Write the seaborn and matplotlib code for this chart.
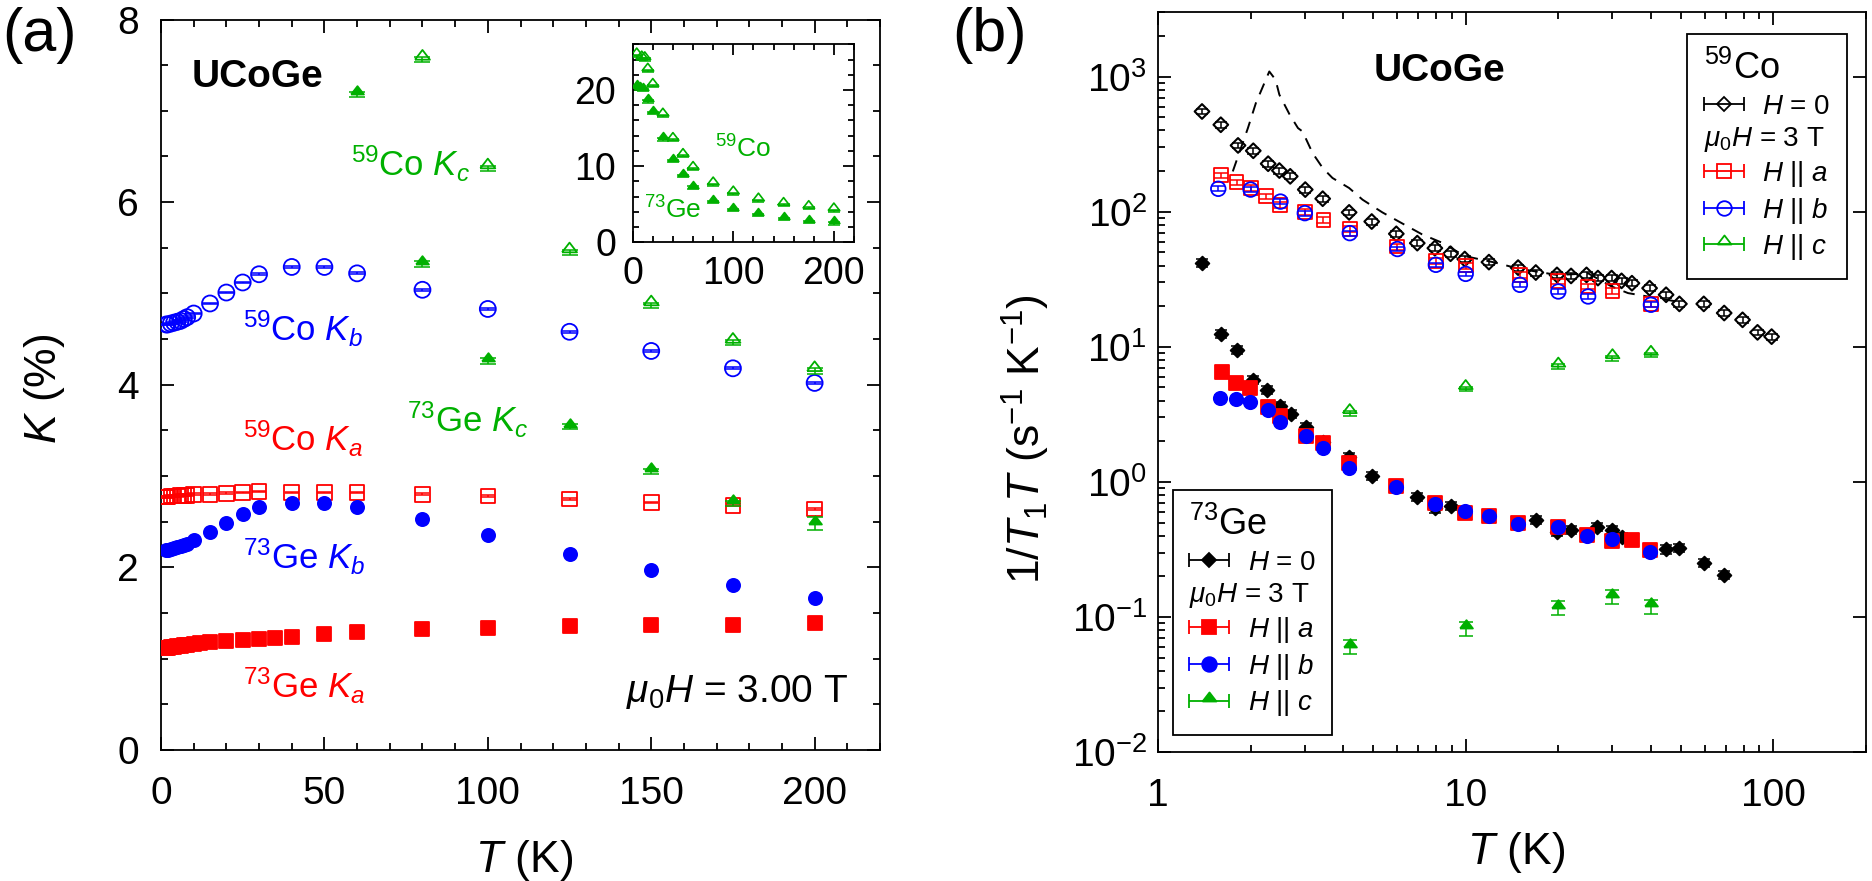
import numpy as np
import matplotlib
matplotlib.use("Agg")
import matplotlib.pyplot as plt
import seaborn as sns
from matplotlib.lines import Line2D
from matplotlib.collections import LineCollection
from matplotlib.container import ErrorbarContainer
from matplotlib.legend_handler import HandlerErrorbar
from matplotlib.ticker import MultipleLocator, LogLocator, NullFormatter, FuncFormatter

# ---------------- panel (a): Knight shift K (%) vs T (K) ----------------
co_kb_T = [1.6, 2, 3, 4, 5, 6, 7, 8, 10, 15, 20, 25, 30, 40, 50, 60, 80, 100, 125, 150, 175, 200]
co_kb_K = [4.66, 4.66, 4.67, 4.68, 4.69, 4.70, 4.72, 4.74, 4.78, 4.89, 5.01, 5.12, 5.21, 5.29, 5.29,
           5.22, 5.04, 4.83, 4.58, 4.37, 4.18, 4.02]
co_ka_T = [1.6, 2, 3, 4, 5, 6, 7, 8, 10, 15, 20, 25, 30, 40, 50, 60, 80, 100, 125, 150, 175, 200]
co_ka_K = [2.77, 2.77, 2.78, 2.78, 2.78, 2.79, 2.79, 2.79, 2.80, 2.80, 2.81, 2.82, 2.83, 2.82, 2.82,
           2.82, 2.80, 2.78, 2.75, 2.71, 2.68, 2.64]
ge_kb_T = [1.6, 2, 3, 4, 5, 6, 7, 8, 10, 15, 20, 25, 30, 40, 50, 60, 80, 100, 125, 150, 175, 200]
ge_kb_K = [2.19, 2.19, 2.20, 2.21, 2.22, 2.23, 2.24, 2.26, 2.30, 2.39, 2.49, 2.58, 2.66, 2.71, 2.71,
           2.66, 2.53, 2.35, 2.15, 1.97, 1.81, 1.66]
ge_ka_T = [1.6, 2, 3, 4, 5, 6, 7, 8, 10, 12, 15, 20, 25, 30, 35, 40, 50, 60, 80, 100, 125, 150, 175, 200]
ge_ka_K = [1.12, 1.12, 1.13, 1.13, 1.14, 1.14, 1.15, 1.15, 1.16, 1.17, 1.18, 1.19, 1.20, 1.22, 1.23,
           1.24, 1.27, 1.29, 1.32, 1.34, 1.36, 1.37, 1.37, 1.39]
co_kc_T = [4, 9, 12, 15, 20, 30, 40, 50, 60, 80, 100, 125, 150, 175, 200]
co_kc_K = [24.5, 24.1, 24.0, 22.5, 20.5, 16.6, 13.4, 11.3, 9.6, 7.56, 6.37, 5.45, 4.87, 4.46, 4.15]
ge_kc_T = [4, 7, 10, 15, 20, 30, 40, 50, 60, 80, 100, 125, 150, 175, 200]
ge_kc_K = [20.4, 20.1, 20.0, 18.5, 17.0, 13.5, 10.7, 8.7, 7.18, 5.32, 4.26, 3.54, 3.05, 2.70, 2.48]
ge_kc_err = [0.2, 0.2, 0.2, 0.2, 0.2, 0.2, 0.2, 0.2, 0.03, 0.03, 0.03, 0.03, 0.03, 0.03, 0.07]
k_err = 0.01
kc_err = 0.03

# ---------------- panel (b): 1/T1T vs T ----------------
co_h0_T = [1.39, 1.6, 1.82, 2.04, 2.28, 2.48, 2.69, 3.01, 3.43, 4.18, 4.95, 5.95, 6.96, 7.94, 8.93, 9.93,
           11.9, 14.8, 16.9, 19.8, 22.0, 24.7, 26.9, 29.8, 32.1, 34.7, 39.6, 44.8, 49.5, 59.4, 69.2,
           79.4, 88.8, 98.7]
co_h0_R = [553, 441, 310, 283, 227, 202, 183, 146, 125, 99, 84.7, 68.7, 58.6, 53.8, 48.9, 44.7,
           42.4, 38.6, 35.5, 34.1, 33.5, 34.1, 32.3, 32.3, 30.8, 29.6, 27.2, 24.3, 20.8, 20.8, 17.8,
           15.85, 12.8, 11.9]
co_a_T = [1.6, 1.8, 2.0, 2.25, 2.5, 3.0, 3.45, 4.2, 6.0, 8.0, 10, 15, 20, 25, 30, 40]
co_a_R = [186, 165, 150, 130, 113, 99.5, 87.3, 74.5, 55.3, 43.4, 40, 34.1, 30.5, 28, 26.1, 20.8]
co_b_T = [1.57, 2.0, 2.5, 3.0, 4.2, 6.0, 8.0, 10, 15, 20, 25, 40]
co_b_R = [148, 146, 119, 97.7, 69.5, 53, 40.5, 34.7, 28.8, 25.7, 23.6, 20.5]
co_c_T = [4.2, 10, 20, 30, 40]
co_c_R = [3.23, 4.87, 7.14, 8.24, 8.73]
ge_h0_T = [1.39, 1.6, 1.8, 2.04, 2.26, 2.5, 2.71, 3.02, 3.43, 4.18, 4.95, 6.96, 7.97, 8.93, 16.9,
           19.75, 22, 26.8, 29.8, 32.1, 44.8, 49.5, 59.4, 69.2]
ge_h0_R = [41.7, 12.4, 9.5, 5.7, 4.8, 3.66, 3.19, 2.54, 1.99, 1.52, 1.107, 0.778, 0.638, 0.664, 0.524,
           0.428, 0.441, 0.466, 0.441, 0.394, 0.317, 0.323, 0.25, 0.205]
ge_a_T = [1.62, 1.79, 1.99, 2.28, 2.5, 3.02, 3.45, 4.18, 5.95, 7.94, 9.93, 11.9, 14.8, 19.9, 24.7,
          29.8, 34.7, 39.6]
ge_a_R = [6.46, 5.38, 4.94, 3.57, 3.08, 2.17, 1.94, 1.38, 0.933, 0.703, 0.586, 0.56, 0.50, 0.466,
          0.405, 0.362, 0.372, 0.313]
ge_b_T = [1.59, 1.79, 1.99, 2.28, 2.5, 3.02, 3.45, 4.18, 5.95, 7.97, 9.93, 11.9, 14.8, 19.9, 24.7,
          29.8, 39.6]
ge_b_R = [4.21, 4.09, 3.93, 3.41, 2.80, 2.2, 1.78, 1.26, 0.92, 0.687, 0.612, 0.555, 0.49, 0.46,
          0.40, 0.377, 0.305]
ge_c_T = [4.2, 10, 20, 30, 40]
ge_c_R = [0.060, 0.0824, 0.117, 0.141, 0.120]
dash_T = [1.75, 1.96, 2.08, 2.30, 2.41, 2.48, 2.68, 2.85, 2.95, 3.18, 3.43, 3.69, 4.18, 4.62, 5.36,
          6.22, 7.22, 8.38, 9.93, 12.5, 14.8, 19.9, 25, 29.8, 33.7, 50]
dash_R = [199, 417, 638, 1094, 950, 736, 523, 417, 393, 272, 211, 178, 150, 123, 99, 82, 68, 59,
          47, 42, 38, 34, 35, 28, 25, 21.4]
relerr = {"co_h0": 0.05, "co_a": 0.05, "co_b": 0.04, "co_c": 0.04,
          "ge_h0": 0.07, "ge_a": 0.05, "ge_b": 0.04, "ge_c": 0.12}

RED, BLUE, GREEN, BLACK = "#ff0000", "#0000ff", "#00b000", "#000000"
TRI = [(-1, 0), (1, 0), (0, 1.3), (-1, 0)]

sns.set_theme(style="ticks")
plt.rcParams.update({
    "font.family": ["Liberation Sans", "DejaVu Sans"],
    "mathtext.fontset": "custom",
    "mathtext.rm": "Liberation Sans",
    "mathtext.it": "Liberation Sans:italic",
    "mathtext.bf": "Liberation Sans:bold",
    "mathtext.sf": "Liberation Sans",
    "axes.linewidth": 1.3,
    "axes.edgecolor": "black",
    "xtick.direction": "in", "ytick.direction": "in",
    "xtick.top": True, "ytick.right": True,
    "xtick.color": "black", "ytick.color": "black",
    "text.color": "black", "axes.labelcolor": "black",
})

W, H = 1872, 881
fig = plt.figure(figsize=(W / 100, H / 100), dpi=100)


def box(l, t, r, b):
    return [l / W, 1 - b / H, (r - l) / W, (b - t) / H]


axA = fig.add_axes(box(161, 19.5, 880, 750))
axB = fig.add_axes(box(1158, 12.3, 1866, 752))
axI = fig.add_axes(box(632.7, 44.3, 854, 242.3))


def series(ax, T, V, marker, color, ms, filled, err, cap, lw=1.3, z=3):
    T = np.asarray(T, float)
    V = np.asarray(V, float)
    ax.errorbar(T, V, yerr=err, fmt="none", ecolor=color, elinewidth=1.1,
                capsize=cap, capthick=1.1, zorder=z)
    sns.scatterplot(x=T, y=V, ax=ax, marker=marker, s=ms ** 2, color=color,
                    facecolor=color if filled else "none", edgecolor=color,
                    linewidth=lw, zorder=z + 0.5, legend=False)


def style_ticks(ax, labelsize, major_len=9.4, minor_len=5.0):
    ax.tick_params(which="both", direction="in", top=True, right=True, width=1.3,
                   colors="black", labelsize=labelsize)
    ax.tick_params(which="major", length=major_len)
    ax.tick_params(which="minor", length=minor_len)
    for s in ax.spines.values():
        s.set_linewidth(1.3)
        s.set_color("black")


# ---------------- panel (a) ----------------
axA.set_xlim(0, 220)
axA.set_ylim(0, 8)
series(axA, co_ka_T, co_ka_K, "s", RED, 10.5, False, k_err, 5.0, z=3)
series(axA, ge_ka_T, ge_ka_K, "s", RED, 9.5, True, k_err, 4.5, z=3)
series(axA, co_kb_T, co_kb_K, "o", BLUE, 11.5, False, k_err, 5.5, z=4)
series(axA, ge_kb_T, ge_kb_K, "o", BLUE, 9.5, True, k_err, 4.5, z=4)
series(axA, co_kc_T, co_kc_K, TRI, GREEN, 14, False, kc_err, 6.0, z=5)
series(axA, ge_kc_T, ge_kc_K, TRI, GREEN, 12, True, ge_kc_err, 5.5, z=5)
axA.xaxis.set_major_locator(MultipleLocator(50))
axA.xaxis.set_minor_locator(MultipleLocator(10))
axA.yaxis.set_major_locator(MultipleLocator(2))
axA.yaxis.set_minor_locator(MultipleLocator(0.5))
style_ticks(axA, 28)
axA.tick_params(axis="x", pad=19)
axA.tick_params(axis="y", pad=16)
axA.set_xlabel(r"$T$ (K)", fontsize=32)
axA.set_ylabel(r"$K$ (%)", fontsize=32)
axA.xaxis.label.set_va("center")
axA.xaxis.set_label_coords(0.505, -0.1506)
axA.yaxis.label.set_va("center")
axA.yaxis.set_label_coords(-0.1627, 0.494)

axA.text(9.4, 7.37, "UCoGe", fontsize=28, fontweight="bold", ha="left", va="center")
axA.text(58.1, 6.42, r"$^{59}$Co $K_c$", color=GREEN, fontsize=25, ha="left", va="center")
axA.text(25.1, 4.61, r"$^{59}$Co $K_b$", color=BLUE, fontsize=25, ha="left", va="center")
axA.text(25.1, 3.41, r"$^{59}$Co $K_a$", color=RED, fontsize=25, ha="left", va="center")
axA.text(75.2, 3.61, r"$^{73}$Ge $K_c$", color=GREEN, fontsize=25, ha="left", va="center")
axA.text(25.1, 2.11, r"$^{73}$Ge $K_b$", color=BLUE, fontsize=25, ha="left", va="center")
axA.text(25.1, 0.70, r"$^{73}$Ge $K_a$", color=RED, fontsize=25, ha="left", va="center")
axA.text(210.1, 0.63, r"$\mu_0H$ = 3.00 T", fontsize=28, ha="right", va="center")

# inset
axI.set_xlim(0, 220)
axI.set_ylim(0, 26)
series(axI, co_kc_T, co_kc_K, TRI, GREEN, 11, False, 0.15, 4.5, lw=1.2)
series(axI, ge_kc_T, ge_kc_K, TRI, GREEN, 10, True, 0.15, 4.5, lw=1.2)
axI.xaxis.set_major_locator(MultipleLocator(100))
axI.xaxis.set_minor_locator(MultipleLocator(20))
axI.yaxis.set_major_locator(MultipleLocator(10))
axI.yaxis.set_minor_locator(MultipleLocator(2))
style_ticks(axI, 27, major_len=8, minor_len=4.5)
axI.tick_params(axis="x", pad=10)
axI.tick_params(axis="y", pad=12)
axI.text(81.7, 12.2, r"$^{59}$Co", color=GREEN, fontsize=19, ha="left", va="center")
axI.text(11.7, 4.3, r"$^{73}$Ge", color=GREEN, fontsize=19, ha="left", va="center")

# ---------------- panel (b) ----------------
axB.set_xscale("log")
axB.set_yscale("log")
axB.set_xlim(1, 200)
axB.set_ylim(1e-2, 3e3)
sns.lineplot(x=dash_T, y=dash_R, ax=axB, color=BLACK, linewidth=1.4,
             linestyle=(0, (6, 4.5)), zorder=2, legend=False)

R = lambda v: np.asarray(v, float)
series(axB, co_h0_T, co_h0_R, "D", BLACK, 7.5, False, relerr["co_h0"] * R(co_h0_R), 4.5, lw=1.5, z=3)
series(axB, ge_h0_T, ge_h0_R, "D", BLACK, 7.0, True, relerr["ge_h0"] * R(ge_h0_R), 4.5, z=3)
series(axB, co_a_T, co_a_R, "s", RED, 10, False, relerr["co_a"] * R(co_a_R), 5, z=4)
series(axB, ge_a_T, ge_a_R, "s", RED, 9.6, True, relerr["ge_a"] * R(ge_a_R), 4.5, z=4)
series(axB, co_b_T, co_b_R, "o", BLUE, 10.5, False, relerr["co_b"] * R(co_b_R), 5, z=5)
series(axB, ge_b_T, ge_b_R, "o", BLUE, 9.6, True, relerr["ge_b"] * R(ge_b_R), 4.5, z=5)
series(axB, co_c_T, co_c_R, TRI, GREEN, 13, False, relerr["co_c"] * R(co_c_R), 5, z=6)
series(axB, ge_c_T, ge_c_R, TRI, GREEN, 12, True, relerr["ge_c"] * R(ge_c_R), 5, z=6)

axB.xaxis.set_major_locator(LogLocator(base=10, numticks=10))
axB.xaxis.set_minor_locator(LogLocator(base=10, subs=np.arange(2, 10), numticks=20))
axB.xaxis.set_major_formatter(FuncFormatter(lambda v, p: f"{v:g}"))
axB.xaxis.set_minor_formatter(NullFormatter())
axB.yaxis.set_major_locator(LogLocator(base=10, numticks=12))
axB.yaxis.set_minor_locator(LogLocator(base=10, subs=np.arange(2, 10), numticks=30))
axB.yaxis.set_minor_formatter(NullFormatter())
style_ticks(axB, 28)
axB.tick_params(axis="y", which="minor", right=False)
axB.tick_params(axis="x", pad=19)
axB.tick_params(axis="y", pad=8)
axB.set_xlabel(r"$T$ (K)", fontsize=32)
axB.set_ylabel(r"1/$T_1T$ (s$^{-1}$ K$^{-1}$)", fontsize=32)
axB.xaxis.label.set_va("center")
axB.xaxis.set_label_coords(0.5056, -0.1365)
axB.yaxis.label.set_va("center")
axB.yaxis.set_label_coords(-0.187, 0.423)
axB.text(0.304, 0.921, "UCoGe", transform=axB.transAxes, fontsize=28, fontweight="bold",
         ha="left", va="center")


def proxy(marker, color, ms, filled):
    pl = Line2D([], [], linestyle="none", marker=marker, markersize=ms, color=color,
                markerfacecolor=color if filled else "none", markeredgecolor=color,
                markeredgewidth=1.3)
    cl = Line2D([], [], linestyle="none", marker="|", markersize=9.6, color=color,
                markeredgewidth=1.3)
    bl = LineCollection([], colors=[color], linewidths=1.3)
    return ErrorbarContainer((pl, (cl,), (bl,)), has_xerr=True, has_yerr=False)


LEG_FS = 20
HL, HTP, BPAD = 1.44, 0.66, 0.6
MU_LABEL = r"$\mu_0H$ = 3 T"


def make_legend(ax, title, filled, loc, anchor):
    handles = [proxy("D", BLACK, 7.0, filled),
               Line2D([], [], linestyle="none", marker="None"),
               proxy("s", RED, 10, filled),
               proxy("o", BLUE, 10.5, filled),
               proxy(TRI, GREEN, 13, filled)]
    labels = [r"$H$ = 0", "", r"$H$ || $a$", r"$H$ || $b$", r"$H$ || $c$"]
    leg = ax.legend(handles, labels, loc=loc, bbox_to_anchor=anchor, bbox_transform=ax.transAxes,
                    borderaxespad=0, fontsize=LEG_FS, title=title, title_fontsize=26,
                    handlelength=HL, handletextpad=HTP, borderpad=BPAD, labelspacing=0.24,
                    frameon=True, fancybox=False, framealpha=1, edgecolor="black",
                    alignment="left",
                    handler_map={ErrorbarContainer: HandlerErrorbar(xerr_size=HL / 2)})
    leg.get_frame().set_linewidth(1.3)
    return leg


legB1 = make_legend(axB, r"$^{59}$Co", False, "upper right", (0.973, 0.9707))
axB.add_artist(legB1)
legB2 = make_legend(axB, r"$^{73}$Ge", True, "lower left", (0.0208, 0.023))

fig.text(39 / W, 1 - 35 / H, "(a)", fontsize=44, ha="center", va="center")
fig.text(989 / W, 1 - 35 / H, "(b)", fontsize=44, ha="center", va="center")

# the "mu0 H = 3 T" sub-heading row of each legend, left-aligned with the handles
fig.canvas.draw()
renderer = fig.canvas.get_renderer()
for leg in (legB1, legB2):
    fb = leg.get_frame().get_window_extent(renderer)
    texts = leg.get_texts()
    b0 = texts[0].get_window_extent(renderer)
    b2 = texts[2].get_window_extent(renderer)
    y = 0.5 * (b0.y0 + b2.y0)
    x = fb.x0 + BPAD * LEG_FS * fig.dpi / 72.0
    fig.text(x / W, y / H, MU_LABEL, fontsize=LEG_FS, ha="left", va="bottom", zorder=10)

fig.savefig("out.png", dpi=100)
